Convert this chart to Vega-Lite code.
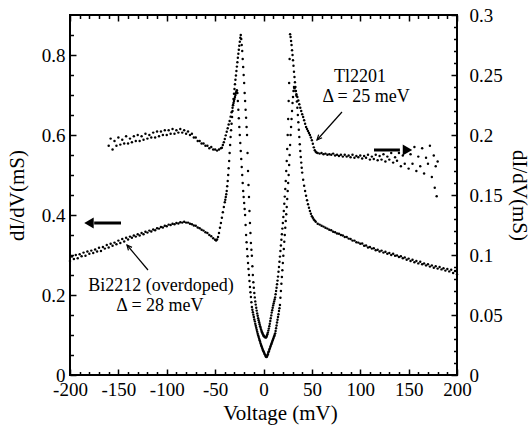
{
"$schema": "https://vega.github.io/schema/vega-lite/v6.json",
"width": 387, "height": 360,
"autosize": {"type": "none"},
"padding": {"left": 70, "top": 15, "right": 75, "bottom": 50},
"background": "white",
"config": {
 "view": {"stroke": "black", "strokeWidth": 2},
 "axis": {"labelFont": "'Liberation Serif', 'Times New Roman', 'DejaVu Serif', serif", "labelFontSize": 19, "labelColor": "black", "titleFont": "'Liberation Serif', 'Times New Roman', 'DejaVu Serif', serif", "titleFontSize": 21, "titleFontWeight": "normal", "titleColor": "black", "domain": false, "grid": false, "tickColor": "black", "tickWidth": 1.5, "labelFlush": false, "labelOverlap": false}
},
"datasets": {
"bi": [
{"v":-200,"y":0.285},{"v":-198,"y":0.296},{"v":-196,"y":0.29},{"v":-194,"y":0.3},{"v":-192,"y":0.292},{"v":-190,"y":0.302},{"v":-188,"y":0.297},{"v":-186,"y":0.306},{"v":-184,"y":0.298},{"v":-182,"y":0.309},{"v":-180,"y":0.303},{"v":-178,"y":0.311},{"v":-176,"y":0.305},{"v":-174,"y":0.314},{"v":-172,"y":0.309},{"v":-170,"y":0.318},{"v":-168,"y":0.31},{"v":-166,"y":0.32},{"v":-164,"y":0.316},{"v":-162,"y":0.325},{"v":-160,"y":0.319},{"v":-158,"y":0.328},{"v":-156,"y":0.323},{"v":-154,"y":0.331},{"v":-152,"y":0.327},{"v":-150,"y":0.336},{"v":-148,"y":0.33},{"v":-146,"y":0.34},{"v":-144,"y":0.334},{"v":-142,"y":0.343},{"v":-140,"y":0.339},{"v":-138,"y":0.346},{"v":-136,"y":0.343},{"v":-134,"y":0.349},{"v":-132,"y":0.346},{"v":-130,"y":0.352},{"v":-128,"y":0.349},{"v":-126,"y":0.355},{"v":-124,"y":0.352},{"v":-122,"y":0.358},{"v":-120,"y":0.356},{"v":-118,"y":0.361},{"v":-116,"y":0.359},{"v":-114,"y":0.364},{"v":-112,"y":0.362},{"v":-110,"y":0.367},{"v":-108,"y":0.366},{"v":-106,"y":0.37},{"v":-104,"y":0.369},{"v":-102,"y":0.373},{"v":-100,"y":0.372},{"v":-98,"y":0.376},{"v":-96,"y":0.375},{"v":-94,"y":0.378},{"v":-92,"y":0.377},{"v":-90,"y":0.38},{"v":-88,"y":0.379},{"v":-86,"y":0.382},{"v":-84,"y":0.381},{"v":-82,"y":0.383},{"v":-80,"y":0.381},{"v":-78,"y":0.381},{"v":-76,"y":0.378},{"v":-74,"y":0.377},{"v":-72,"y":0.374},{"v":-70,"y":0.373},{"v":-68,"y":0.369},{"v":-66,"y":0.367},{"v":-64,"y":0.363},{"v":-62,"y":0.361},{"v":-60,"y":0.357},{"v":-58,"y":0.355},{"v":-56,"y":0.35},{"v":-54,"y":0.347},{"v":-52,"y":0.342},
{"v":-50,"y":0.338},{"v":-49,"y":0.336},{"v":-48,"y":0.339},{"v":-47,"y":0.345},{"v":-46,"y":0.355},{"v":-45,"y":0.368},{"v":-44,"y":0.38},{"v":-43,"y":0.393},{"v":-42,"y":0.407},{"v":-41,"y":0.42},{"v":-40,"y":0.432},{"v":-39.5,"y":0.438},{"v":-39,"y":0.445},{"v":-38.5,"y":0.452},{"v":-38,"y":0.46},{"v":-37.5,"y":0.472},{"v":-37,"y":0.485},{"v":-36.5,"y":0.5},{"v":-36,"y":0.517},{"v":-35.5,"y":0.535},{"v":-35,"y":0.555},{"v":-34.5,"y":0.575},{"v":-34,"y":0.595},{"v":-33.5,"y":0.612},{"v":-33,"y":0.628},{"v":-32.5,"y":0.645},{"v":-32,"y":0.66},{"v":-31.5,"y":0.675},{"v":-31,"y":0.69},{"v":-30.5,"y":0.703},{"v":-30,"y":0.715},{"v":-29.5,"y":0.727},{"v":-29,"y":0.738},{"v":-28.5,"y":0.749},{"v":-28,"y":0.76},{"v":-27.5,"y":0.771},{"v":-27,"y":0.782},{"v":-26.5,"y":0.793},{"v":-26,"y":0.803},{"v":-25.5,"y":0.813},{"v":-25,"y":0.823},{"v":-24.5,"y":0.833},{"v":-24,"y":0.843},{"v":-23.5,"y":0.85},{"v":-23,"y":0.84},{"v":-22.5,"y":0.825},{"v":-22,"y":0.81},{"v":-21.5,"y":0.79},{"v":-21,"y":0.77},{"v":-20.5,"y":0.75},{"v":-20,"y":0.73},{"v":-19.5,"y":0.705},{"v":-19,"y":0.685},{"v":-18.5,"y":0.663},{"v":-18,"y":0.643},{"v":-17.5,"y":0.62},{"v":-17,"y":0.6},{"v":-16.5,"y":0.555},{"v":-16,"y":0.51},{"v":-15.5,"y":0.475},{"v":-15,"y":0.445},{"v":-14.5,"y":0.41},{"v":-14,"y":0.38},{"v":-13.5,"y":0.355},{"v":-13,"y":0.33},{"v":-12.5,"y":0.313},{"v":-12,"y":0.298},{"v":-11.5,"y":0.272},{"v":-11,"y":0.25},{"v":-10.5,"y":0.232},{"v":-10,"y":0.218},{"v":-9.5,"y":0.205},{"v":-9,"y":0.194},{"v":-8.5,"y":0.184},{"v":-8,"y":0.176},{"v":-7.5,"y":0.168},{"v":-7,"y":0.161},{"v":-6.5,"y":0.154},{"v":-6,"y":0.148},{"v":-5.5,"y":0.142},{"v":-5,"y":0.137},{"v":-4.5,"y":0.132},{"v":-4,"y":0.127},{"v":-3.5,"y":0.122},{"v":-3,"y":0.118},{"v":-2.5,"y":0.114},{"v":-2,"y":0.11},{"v":-1.5,"y":0.107},{"v":-1,"y":0.104},{"v":-0.5,"y":0.101},{"v":0,"y":0.099},{"v":0.5,"y":0.097},{"v":1,"y":0.096},{"v":1.5,"y":0.095},{"v":2,"y":0.094},{"v":2.5,"y":0.094},{"v":3,"y":0.095},{"v":3.5,"y":0.098},{"v":4,"y":0.102},{"v":4.5,"y":0.106},{"v":5,"y":0.111},{"v":5.5,"y":0.116},{"v":6,"y":0.122},{"v":6.5,"y":0.128},{"v":7,"y":0.135},{"v":7.5,"y":0.142},{"v":8,"y":0.149},{"v":8.5,"y":0.156},{"v":9,"y":0.162},{"v":9.5,"y":0.168},{"v":10,"y":0.174},{"v":10.5,"y":0.179},{"v":11,"y":0.184},{"v":11.5,"y":0.189},{"v":12,"y":0.194},{"v":12.5,"y":0.202},{"v":13,"y":0.21},{"v":13.5,"y":0.218},{"v":14,"y":0.227},{"v":14.5,"y":0.236},{"v":15,"y":0.246},{"v":15.5,"y":0.258},{"v":16,"y":0.27},{"v":16.5,"y":0.283},{"v":17,"y":0.296},{"v":17.5,"y":0.31},{"v":18,"y":0.324},{"v":18.5,"y":0.338},{"v":19,"y":0.352},{"v":19.5,"y":0.366},{"v":20,"y":0.38},{"v":20.5,"y":0.395},{"v":21,"y":0.41},{"v":21.5,"y":0.428},{"v":22,"y":0.446},{"v":22.5,"y":0.465},{"v":23,"y":0.485},{"v":23.5,"y":0.51},{"v":24,"y":0.535},{"v":24.5,"y":0.565},{"v":25,"y":0.6},{"v":25.5,"y":0.64},{"v":26,"y":0.685},{"v":26.5,"y":0.73},{"v":27,"y":0.79},{"v":27.5,"y":0.852},{"v":28,"y":0.845},{"v":28.5,"y":0.835},{"v":29,"y":0.825},{"v":29.5,"y":0.812},{"v":30,"y":0.8},{"v":30.5,"y":0.787},{"v":31,"y":0.773},{"v":31.5,"y":0.758},{"v":32,"y":0.745},{"v":32.5,"y":0.732},{"v":33,"y":0.72},{"v":33.5,"y":0.71},{"v":34,"y":0.698},{"v":34.5,"y":0.684},{"v":35,"y":0.668},{"v":35.5,"y":0.65},{"v":36,"y":0.632},{"v":36.5,"y":0.613},{"v":37,"y":0.595},{"v":37.5,"y":0.577},{"v":38,"y":0.56},{"v":38.5,"y":0.545},{"v":39,"y":0.531},{"v":39.5,"y":0.518},{"v":40,"y":0.506},{"v":41,"y":0.488},{"v":42,"y":0.473},{"v":43,"y":0.46},{"v":44,"y":0.448},{"v":45,"y":0.437},{"v":46,"y":0.427},{"v":47,"y":0.418},{"v":48,"y":0.41},{"v":49,"y":0.403},{"v":50,"y":0.397},{"v":51,"y":0.393},{"v":52,"y":0.389},{"v":53,"y":0.386},{"v":54,"y":0.383},
{"v":56,"y":0.378},{"v":58,"y":0.376},{"v":60,"y":0.373},{"v":62,"y":0.371},{"v":64,"y":0.368},{"v":66,"y":0.366},{"v":68,"y":0.363},{"v":70,"y":0.362},{"v":72,"y":0.358},{"v":74,"y":0.357},{"v":76,"y":0.354},{"v":78,"y":0.353},{"v":80,"y":0.35},{"v":82,"y":0.349},{"v":84,"y":0.345},{"v":86,"y":0.345},{"v":88,"y":0.341},{"v":90,"y":0.34},{"v":92,"y":0.336},{"v":94,"y":0.336},{"v":96,"y":0.332},{"v":98,"y":0.331},{"v":100,"y":0.328},{"v":102,"y":0.329},{"v":104,"y":0.323},{"v":106,"y":0.324},{"v":108,"y":0.319},{"v":110,"y":0.32},{"v":112,"y":0.316},{"v":114,"y":0.317},{"v":116,"y":0.312},{"v":118,"y":0.313},{"v":120,"y":0.309},{"v":122,"y":0.311},{"v":124,"y":0.306},{"v":126,"y":0.308},{"v":128,"y":0.303},{"v":130,"y":0.305},{"v":132,"y":0.3},{"v":134,"y":0.303},{"v":136,"y":0.298},{"v":138,"y":0.299},{"v":140,"y":0.295},{"v":142,"y":0.297},{"v":144,"y":0.292},{"v":146,"y":0.294},{"v":148,"y":0.288},{"v":150,"y":0.291},{"v":152,"y":0.285},{"v":154,"y":0.288},{"v":156,"y":0.282},{"v":158,"y":0.285},{"v":160,"y":0.279},{"v":162,"y":0.283},{"v":164,"y":0.277},{"v":166,"y":0.279},{"v":168,"y":0.274},{"v":170,"y":0.277},{"v":172,"y":0.271},{"v":174,"y":0.274},{"v":176,"y":0.268},{"v":178,"y":0.272},{"v":180,"y":0.266},{"v":182,"y":0.27},{"v":184,"y":0.264},{"v":186,"y":0.267},{"v":188,"y":0.261},{"v":190,"y":0.265},{"v":192,"y":0.259},{"v":194,"y":0.263},{"v":196,"y":0.255},{"v":198,"y":0.26},{"v":200,"y":0.252}
],
"tl": [
{"v":-160,"y":0.191},{"v":-158,"y":0.197},{"v":-156,"y":0.188},{"v":-154,"y":0.195},{"v":-152,"y":0.191},{"v":-150,"y":0.198},{"v":-148,"y":0.192},{"v":-146,"y":0.196},{"v":-144,"y":0.193},{"v":-142,"y":0.199},{"v":-140,"y":0.193},{"v":-138,"y":0.197},{"v":-136,"y":0.194},{"v":-134,"y":0.199},{"v":-132,"y":0.195},{"v":-130,"y":0.2},{"v":-128,"y":0.195},{"v":-126,"y":0.199},{"v":-124,"y":0.196},{"v":-122,"y":0.201},{"v":-120,"y":0.197},{"v":-118,"y":0.2},{"v":-116,"y":0.198},{"v":-114,"y":0.202},{"v":-112,"y":0.198},{"v":-110,"y":0.203},{"v":-108,"y":0.199},{"v":-106,"y":0.203},{"v":-104,"y":0.2},{"v":-102,"y":0.204},{"v":-100,"y":0.2},{"v":-98,"y":0.204},{"v":-96,"y":0.201},{"v":-94,"y":0.205},{"v":-92,"y":0.201},{"v":-90,"y":0.204},{"v":-88,"y":0.202},{"v":-86,"y":0.205},{"v":-84,"y":0.202},{"v":-82,"y":0.204},{"v":-80,"y":0.201},{"v":-78,"y":0.203},{"v":-76,"y":0.2},{"v":-74,"y":0.201},{"v":-72,"y":0.198},{"v":-70,"y":0.198},{"v":-68,"y":0.195},{"v":-66,"y":0.195},{"v":-64,"y":0.193},{"v":-62,"y":0.193},{"v":-60,"y":0.191},{"v":-58,"y":0.191},{"v":-56,"y":0.189},{"v":-54,"y":0.19},{"v":-52,"y":0.188},{"v":-50,"y":0.188},{"v":-48,"y":0.187},{"v":-46,"y":0.188},{"v":-44,"y":0.189},
{"v":-43,"y":0.1893},{"v":-42,"y":0.1917},{"v":-41,"y":0.194},{"v":-40,"y":0.1967},{"v":-39,"y":0.1997},{"v":-38,"y":0.2027},{"v":-37,"y":0.2057},{"v":-36,"y":0.2087},{"v":-35,"y":0.2117},{"v":-34,"y":0.2153},{"v":-33,"y":0.219},{"v":-32,"y":0.2227},{"v":-31.5,"y":0.2247},{"v":-31,"y":0.2267},{"v":-30.5,"y":0.2283},{"v":-30,"y":0.23},{"v":-29.5,"y":0.2317},{"v":-29,"y":0.2333},{"v":-28.5,"y":0.235},{"v":-28,"y":0.2363},{"v":-27.5,"y":0.2373},{"v":-27,"y":0.235},{"v":-26.5,"y":0.2283},{"v":-26,"y":0.221},{"v":-25.5,"y":0.214},{"v":-25,"y":0.2067},{"v":-24.5,"y":0.2},{"v":-24,"y":0.1933},{"v":-23.5,"y":0.1867},{"v":-23,"y":0.18},{"v":-22.5,"y":0.1733},{"v":-22,"y":0.1667},{"v":-21.5,"y":0.16},{"v":-21,"y":0.1533},{"v":-20.5,"y":0.1483},{"v":-20,"y":0.1433},{"v":-19.5,"y":0.1383},{"v":-19,"y":0.1333},{"v":-18.5,"y":0.125},{"v":-18,"y":0.1167},{"v":-17.5,"y":0.1107},{"v":-17,"y":0.105},{"v":-16.5,"y":0.099},{"v":-16,"y":0.0933},{"v":-15.5,"y":0.0883},{"v":-15,"y":0.0833},{"v":-14.5,"y":0.0783},{"v":-14,"y":0.0733},{"v":-13.5,"y":0.069},{"v":-13,"y":0.065},{"v":-12.5,"y":0.0607},{"v":-12,"y":0.0567},{"v":-11.5,"y":0.0543},{"v":-11,"y":0.0523},{"v":-10.5,"y":0.0503},{"v":-10,"y":0.0483},{"v":-9.5,"y":0.0463},{"v":-9,"y":0.0447},{"v":-8.5,"y":0.0427},{"v":-8,"y":0.041},{"v":-7.5,"y":0.0393},{"v":-7,"y":0.0377},{"v":-6.5,"y":0.036},{"v":-6,"y":0.0343},{"v":-5.5,"y":0.033},{"v":-5,"y":0.0317},{"v":-4.5,"y":0.0303},{"v":-4,"y":0.029},{"v":-3.5,"y":0.0277},{"v":-3,"y":0.0263},{"v":-2.5,"y":0.025},{"v":-2,"y":0.024},{"v":-1.5,"y":0.0227},{"v":-1,"y":0.0217},{"v":-0.5,"y":0.0207},{"v":0,"y":0.0197},{"v":0.5,"y":0.0187},{"v":1,"y":0.0177},{"v":1.5,"y":0.017},{"v":2,"y":0.016},{"v":2.5,"y":0.0153},{"v":3,"y":0.015},{"v":3.5,"y":0.0153},{"v":4,"y":0.0163},{"v":4.5,"y":0.0173},{"v":5,"y":0.0187},{"v":5.5,"y":0.0197},{"v":6,"y":0.021},{"v":6.5,"y":0.022},{"v":7,"y":0.0233},{"v":7.5,"y":0.0243},{"v":8,"y":0.0257},{"v":8.5,"y":0.0267},{"v":9,"y":0.0277},{"v":9.5,"y":0.029},{"v":10,"y":0.03},{"v":10.5,"y":0.031},{"v":11,"y":0.0323},{"v":11.5,"y":0.0333},{"v":12,"y":0.0347},{"v":12.5,"y":0.0367},{"v":13,"y":0.039},{"v":13.5,"y":0.0413},{"v":14,"y":0.0437},{"v":14.5,"y":0.046},{"v":15,"y":0.0483},{"v":15.5,"y":0.0507},{"v":16,"y":0.0533},{"v":16.5,"y":0.0557},{"v":17,"y":0.0583},{"v":17.5,"y":0.0643},{"v":18,"y":0.07},{"v":18.5,"y":0.076},{"v":19,"y":0.0817},{"v":19.5,"y":0.0873},{"v":20,"y":0.0933},{"v":20.5,"y":0.0993},{"v":21,"y":0.105},{"v":21.5,"y":0.111},{"v":22,"y":0.1167},{"v":22.5,"y":0.1227},{"v":23,"y":0.1283},{"v":23.5,"y":0.134},{"v":24,"y":0.14},{"v":24.5,"y":0.1467},{"v":25,"y":0.1533},{"v":25.5,"y":0.16},{"v":26,"y":0.1667},{"v":26.5,"y":0.175},{"v":27,"y":0.1833},{"v":27.5,"y":0.1917},{"v":28,"y":0.2},{"v":28.5,"y":0.2067},{"v":29,"y":0.2133},{"v":29.5,"y":0.22},{"v":30,"y":0.2267},{"v":30.5,"y":0.2317},{"v":31,"y":0.2367},{"v":31.5,"y":0.24},{"v":32,"y":0.239},{"v":33,"y":0.2367},{"v":34,"y":0.234},{"v":35,"y":0.2317},{"v":36,"y":0.2287},{"v":37,"y":0.2257},{"v":38,"y":0.2227},{"v":39,"y":0.22},{"v":40,"y":0.2173},{"v":41,"y":0.215},{"v":42,"y":0.2123},{"v":43,"y":0.2093},{"v":44,"y":0.2067},{"v":45,"y":0.205},{"v":46,"y":0.2033},{"v":47,"y":0.2017},{"v":48,"y":0.2},{"v":49,"y":0.198},{"v":50,"y":0.1957},{"v":51,"y":0.1927},{"v":52,"y":0.1897},{"v":53,"y":0.1873},{"v":54,"y":0.186},{"v":55,"y":0.1853},
{"v":56,"y":0.185},{"v":58,"y":0.1845},{"v":60,"y":0.185},{"v":62,"y":0.184},{"v":64,"y":0.1845},{"v":66,"y":0.1835},{"v":68,"y":0.184},{"v":70,"y":0.1835},{"v":72,"y":0.1845},{"v":74,"y":0.183},{"v":76,"y":0.1835},{"v":78,"y":0.1825},{"v":80,"y":0.1835},{"v":82,"y":0.182},{"v":84,"y":0.1835},{"v":86,"y":0.182},{"v":88,"y":0.183},{"v":90,"y":0.1815},{"v":92,"y":0.1835},{"v":94,"y":0.181},{"v":96,"y":0.1825},{"v":98,"y":0.1815},{"v":100,"y":0.183},{"v":102,"y":0.1805},{"v":104,"y":0.1825},{"v":106,"y":0.181},{"v":108,"y":0.1835},{"v":110,"y":0.1795},{"v":112,"y":0.182},{"v":114,"y":0.18},{"v":116,"y":0.1835},{"v":118,"y":0.179},{"v":120,"y":0.1825},{"v":122,"y":0.1795},{"v":124,"y":0.184},{"v":126,"y":0.178},{"v":128,"y":0.182},{"v":130,"y":0.1795},{"v":132,"y":0.185},{"v":134,"y":0.177},{"v":136,"y":0.1815},{"v":138,"y":0.1785},{"v":140,"y":0.185},{"v":142,"y":0.174},{"v":144,"y":0.183},{"v":146,"y":0.176},{"v":148,"y":0.188},{"v":150,"y":0.172},{"v":152,"y":0.184},{"v":154,"y":0.176},{"v":156,"y":0.19},{"v":158,"y":0.17},{"v":160,"y":0.182},{"v":162,"y":0.174},{"v":164,"y":0.189},{"v":166,"y":0.168},{"v":168,"y":0.181},{"v":170,"y":0.176},{"v":172,"y":0.191},{"v":174,"y":0.165},{"v":176,"y":0.183},{"v":177,"y":0.156},{"v":178,"y":0.174},{"v":179,"y":0.149},{"v":180,"y":0.178}
]
},
"layer": [
{"data": {"name": "bi"},
 "mark": {"type": "point", "filled": true, "size": 6, "color": "black", "opacity": 1},
 "encoding": {
  "x": {"field": "v", "type": "quantitative", "scale": {"domain": [-200, 200], "nice": false},
   "axis": {"orient": "bottom", "title": "Voltage (mV)", "values": [-200, -150, -100, -50, 0, 50, 100, 150, 200], "ticks": false, "labelExpr": "'' + datum.value", "labelPadding": 5, "titlePadding": 3, "titleX": 210}},
  "y": {"field": "y", "type": "quantitative", "scale": {"domain": [0, 0.9], "nice": false},
   "axis": {"orient": "left", "title": "dI/dV(mS)", "values": [0, 0.2, 0.4, 0.6, 0.8], "ticks": false, "labelExpr": "'' + datum.value", "labelPadding": 5, "titlePadding": 14}}
 }},
{"data": {"name": "tl"},
 "mark": {"type": "point", "filled": true, "size": 6, "color": "black", "opacity": 1},
 "encoding": {
  "x": {"field": "v", "type": "quantitative", "scale": {"domain": [-200, 200], "nice": false},
   "axis": {"orient": "top", "title": null, "values": [-200, -150, -100, -50, 0, 50, 100, 150, 200], "labels": false, "tickSize": -6}},
  "y": {"field": "y", "type": "quantitative", "scale": {"domain": [0, 0.3], "nice": false},
   "axis": {"orient": "right", "title": "dI/dV(mS)", "values": [0, 0.05, 0.1, 0.15, 0.2, 0.25, 0.3], "ticks": false, "labelExpr": "'' + datum.value", "labelPadding": 12, "titlePadding": 6}}
 }},
{"data": {"values": [{"v": 0, "y": 0}]},
 "mark": {"type": "point", "opacity": 0},
 "encoding": {
  "x": {"field": "v", "type": "quantitative", "scale": {"domain": [-200, 200], "nice": false},
   "axis": {"orient": "bottom", "title": null, "values": [-200, -150, -100, -50, 0, 50, 100, 150, 200], "labels": false, "tickSize": -6}},
  "y": {"field": "y", "type": "quantitative", "scale": {"domain": [0, 0.9], "nice": false},
   "axis": {"orient": "left", "title": null, "values": [0, 0.2, 0.4, 0.6, 0.8], "labels": false, "tickSize": -6}}
 }},
{"data": {"values": [{"v": 0, "y": 0}]},
 "mark": {"type": "point", "opacity": 0},
 "encoding": {
  "x": {"field": "v", "type": "quantitative", "scale": {"domain": [-200, 200], "nice": false},
   "axis": {"orient": "top", "title": null, "values": [-190, -180, -170, -160, -140, -130, -120, -110, -90, -80, -70, -60, -40, -30, -20, -10, 10, 20, 30, 40, 60, 70, 80, 90, 110, 120, 130, 140, 160, 170, 180, 190], "labels": false, "tickSize": -3.5}},
  "y": {"field": "y", "type": "quantitative", "scale": {"domain": [0, 0.3], "nice": false},
   "axis": {"orient": "right", "title": null, "values": [0, 0.05, 0.1, 0.15, 0.2, 0.25, 0.3], "labels": false, "tickSize": -6}}
 }},
{"data": {"values": [{"v": 0, "y": 0}]},
 "mark": {"type": "point", "opacity": 0},
 "encoding": {
  "x": {"field": "v", "type": "quantitative", "scale": {"domain": [-200, 200], "nice": false},
   "axis": {"orient": "bottom", "title": null, "values": [-190, -180, -170, -160, -140, -130, -120, -110, -90, -80, -70, -60, -40, -30, -20, -10, 10, 20, 30, 40, 60, 70, 80, 90, 110, 120, 130, 140, 160, 170, 180, 190], "labels": false, "tickSize": -3.5}},
  "y": {"field": "y", "type": "quantitative", "scale": {"domain": [0, 0.9], "nice": false},
   "axis": {"orient": "left", "title": null, "values": [0.05, 0.1, 0.15, 0.25, 0.3, 0.35, 0.45, 0.5, 0.55, 0.65, 0.7, 0.75, 0.85], "labels": false, "tickSize": -3.5}}
 }},
{"data": {"values": [{"v": 0, "y": 0}]},
 "mark": {"type": "point", "opacity": 0},
 "encoding": {
  "x": {"field": "v", "type": "quantitative", "scale": {"domain": [-200, 200], "nice": false}, "axis": null},
  "y": {"field": "y", "type": "quantitative", "scale": {"domain": [0, 0.3], "nice": false},
   "axis": {"orient": "right", "title": null, "values": [0.01, 0.02, 0.03, 0.04, 0.06, 0.07, 0.08, 0.09, 0.11, 0.12, 0.13, 0.14, 0.16, 0.17, 0.18, 0.19, 0.21, 0.22, 0.23, 0.24, 0.26, 0.27, 0.28, 0.29], "labels": false, "tickSize": -3.5}}
 }},
{"data": {"values": [
  {"x": 99.7, "y": 0.745, "t": "Tl2201"},
  {"x": 106, "y": 0.695, "t": "Δ = 25 meV"},
  {"x": -106, "y": 0.223, "t": "Bi2212 (overdoped)"},
  {"x": -107, "y": 0.172, "t": "Δ = 28 meV"}]},
 "mark": {"type": "text", "font": "'Liberation Serif', 'Times New Roman', 'DejaVu Serif', serif", "fontSize": 18, "color": "black", "align": "center", "baseline": "middle"},
 "encoding": {
  "x": {"field": "x", "type": "quantitative", "scale": {"domain": [-200, 200], "nice": false}, "axis": null},
  "y": {"field": "y", "type": "quantitative", "scale": {"domain": [0, 0.9], "nice": false}, "axis": null},
  "text": {"field": "t"}
 }},
{"data": {"values": [
  {"x": -147.3, "y": 0.38, "x2": -175, "y2": 0.38},
  {"x": 114.2, "y": 0.5625, "x2": 141, "y2": 0.5625}]},
 "mark": {"type": "rule", "color": "black", "strokeWidth": 3},
 "encoding": {
  "x": {"field": "x", "type": "quantitative", "scale": {"domain": [-200, 200], "nice": false}, "axis": null},
  "y": {"field": "y", "type": "quantitative", "scale": {"domain": [0, 0.9], "nice": false}, "axis": null},
  "x2": {"field": "x2"}, "y2": {"field": "y2"}
 }},
{"data": {"values": [
  {"x": 81.1, "y": 0.6575, "x2": 55.3, "y2": 0.5875},
  {"x": -119.4, "y": 0.2625, "x2": -141.1, "y2": 0.325}]},
 "mark": {"type": "rule", "color": "black", "strokeWidth": 1.2},
 "encoding": {
  "x": {"field": "x", "type": "quantitative", "scale": {"domain": [-200, 200], "nice": false}, "axis": null},
  "y": {"field": "y", "type": "quantitative", "scale": {"domain": [0, 0.9], "nice": false}, "axis": null},
  "x2": {"field": "x2"}, "y2": {"field": "y2"}
 }},
{"data": {"values": [{"x": -180.4, "y": 0.38}]},
 "mark": {"type": "point", "shape": "triangle-left", "filled": true, "size": 120, "color": "black", "opacity": 1},
 "encoding": {
  "x": {"field": "x", "type": "quantitative", "scale": {"domain": [-200, 200], "nice": false}, "axis": null},
  "y": {"field": "y", "type": "quantitative", "scale": {"domain": [0, 0.9], "nice": false}, "axis": null}
 }},
{"data": {"values": [{"x": 148.8, "y": 0.5625}]},
 "mark": {"type": "point", "shape": "triangle-right", "filled": true, "size": 120, "color": "black", "opacity": 1},
 "encoding": {
  "x": {"field": "x", "type": "quantitative", "scale": {"domain": [-200, 200], "nice": false}, "axis": null},
  "y": {"field": "y", "type": "quantitative", "scale": {"domain": [0, 0.9], "nice": false}, "axis": null}
 }},
{"data": {"values": [{"x": 55.3, "y": 0.5875}]},
 "mark": {"type": "point", "shape": "M-0.6,1.3L0,0L0.6,1.3", "filled": false, "size": 60, "stroke": "black", "strokeWidth": 1.2, "opacity": 1, "angle": 221.8},
 "encoding": {
  "x": {"field": "x", "type": "quantitative", "scale": {"domain": [-200, 200], "nice": false}, "axis": null},
  "y": {"field": "y", "type": "quantitative", "scale": {"domain": [0, 0.9], "nice": false}, "axis": null}
 }},
{"data": {"values": [{"x": -141.1, "y": 0.325}]},
 "mark": {"type": "point", "shape": "M-0.6,1.3L0,0L0.6,1.3", "filled": false, "size": 60, "stroke": "black", "strokeWidth": 1.2, "opacity": 1, "angle": 320},
 "encoding": {
  "x": {"field": "x", "type": "quantitative", "scale": {"domain": [-200, 200], "nice": false}, "axis": null},
  "y": {"field": "y", "type": "quantitative", "scale": {"domain": [0, 0.9], "nice": false}, "axis": null}
 }}
],
"resolve": {"scale": {"y": "independent"}, "axis": {"x": "independent", "y": "independent"}}
}
